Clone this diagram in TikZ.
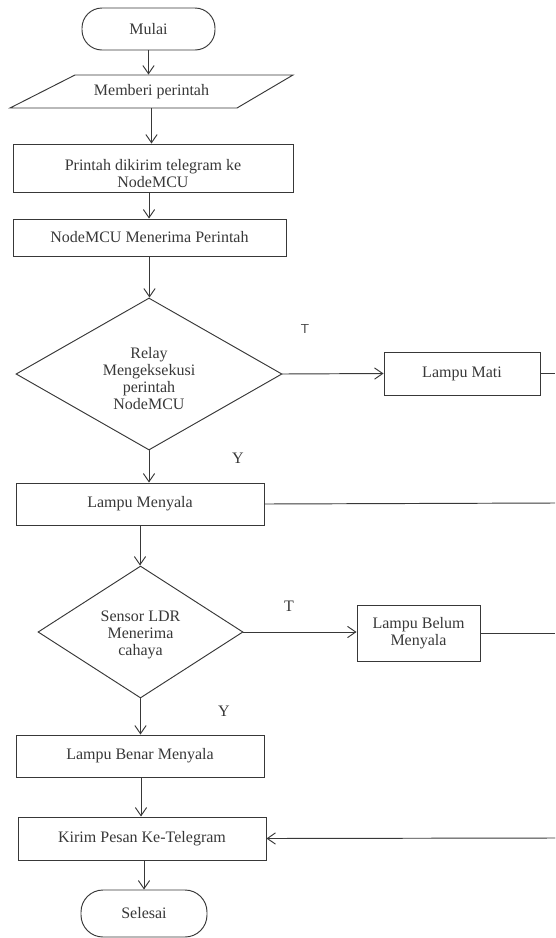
\documentclass[tikz,border=0pt]{standalone}
\usepackage{fontspec}
\setmainfont{Liberation Serif}
\usetikzlibrary{arrows.meta,shapes.geometric}
\newcommand\myfs{\rmfamily\fontsize{16}{17}\selectfont}
\begin{document}
\begin{tikzpicture}[x=1pt,y=-1pt,
  line width=0.95pt, color=black!78,
  box/.style={draw, rectangle, inner sep=0pt, font=\myfs, align=center},
  term/.style={box, rounded corners=20pt},
  dec/.style={draw, diamond, inner sep=0pt, font=\myfs, align=center},
  txt/.style={inner sep=0pt, font=\myfs, align=center},
  arr/.style={-{Straight Barb[length=8pt,width=11pt,line cap=round]}, line cap=round}
]
\useasboundingbox (0,0) rectangle (555,938);

\node[term, minimum width=133pt, minimum height=42pt] (start) at (148.5,29) {Mulai};

\coordinate (pa) at (75,75);
\coordinate (pb) at (293,75);
\coordinate (pc) at (237,108);
\coordinate (pd) at (10,108);
\draw (pa) -- (pb) -- (pc) -- (pd) -- cycle;
\node[txt, minimum width=200pt, minimum height=33pt] (input) at (151.5,91.5) {Memberi perintah};

\node[box, minimum width=280pt, minimum height=48pt] (send) at (153,168) {};
\node[txt] (sendtxt) at (153,174) {Printah dikirim telegram ke\\NodeMCU};

\node[box, minimum width=273pt, minimum height=37pt] (recv) at (149.5,237.5) {NodeMCU Menerima Perintah};

\node[dec, minimum width=266pt, minimum height=152pt] (relay) at (149,374) {};
\node[txt] (relaytxt) at (149,379) {Relay\\Mengeksekusi\\perintah\\NodeMCU};

\node[box, minimum width=156pt, minimum height=43pt] (mati) at (462,373.5) {Lampu Mati};

\node[box, minimum width=248pt, minimum height=42pt] (nyala) at (140,504) {Lampu Menyala};

\node[dec, minimum width=205pt, minimum height=132pt] (ldr) at (140.5,632) {};
\node[txt] (ldrtxt) at (140.5,635) {Sensor LDR\\Menerima\\cahaya};

\node[box, minimum width=123pt, minimum height=56pt] (belum) at (418.5,633) {Lampu Belum\\Menyala};

\node[box, minimum width=248pt, minimum height=42pt] (benar) at (140,756) {Lampu Benar Menyala};

\node[box, minimum width=248pt, minimum height=43pt] (kirim) at (142,838.5) {Kirim Pesan Ke-Telegram};

\node[term, minimum width=126pt, minimum height=47pt, rounded corners=22pt] (end) at (144,913.5) {Selesai};

\node[inner sep=0pt, font=\fontsize{13}{14}\sffamily] (t1) at (305,329) {T};
\node[txt] (t2) at (289,606) {T};
\node[txt] (y1) at (238,458) {Y};
\node[txt] (y2) at (224,711) {Y};

\coordinate (r1) at (555,373.5);
\coordinate (r2) at (555,503);
\coordinate (r3) at (555,633);
\coordinate (r4) at (555,838);

\draw[arr] (start.south) -- (start.south |- input.north);
\draw[arr] (input.south) -- (input.south |- send.north);
\draw[arr] ([xshift=-4pt]send.south) -- ([xshift=-4pt]send.south |- recv.north);
\draw[arr] (recv.south) -- (recv.south |- relay.north);
\draw[arr] (relay.south) -- (relay.south |- nyala.north);
\draw[arr] (relay.east) -- (mati.west);
\draw (mati.east) -- (r1);
\draw (nyala.east) -- (r2);
\draw[arr] (nyala.south) -- (nyala.south |- ldr.north);
\draw[arr] (ldr.east) -- (ldr.east -| belum.west);
\draw (belum.east) -- (r3);
\draw[arr] (ldr.south) -- (ldr.south |- benar.north);
\draw[arr] ([xshift=1pt]benar.south) -- ([xshift=1pt]benar.south |- kirim.north);
\draw[arr] ([xshift=2pt]kirim.south) -- ([xshift=2pt]kirim.south |- end.north);
\draw[arr] (r4) -- (kirim.east);
\end{tikzpicture}
\end{document}
